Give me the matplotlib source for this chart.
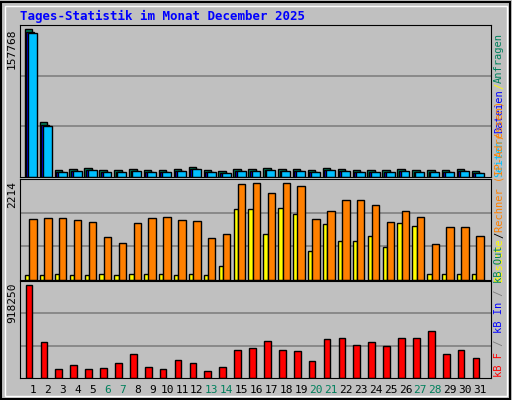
import matplotlib
matplotlib.use('Agg')
import matplotlib.pyplot as plt
import numpy as np

days = np.arange(1, 32)
weekend = [6, 7, 13, 14, 20, 21, 27, 28]

# values
hits_px = [442, 408, 20, 23, 26, 20, 20, 23, 20, 20, 23, 29, 20, 17, 23, 23, 26, 23, 23, 20, 26, 23, 20, 20, 20, 23, 20, 20, 20, 23, 17]
hits = [157768, 58600] + [round(h / 442 * 157768) for h in hits_px[2:]]
files = [155000, 55500] + [round((h - 4) / 442 * 157768) for h in hits_px[2:]]
pages = [154000, 55000] + [round((h - 6) / 442 * 157768) for h in hits_px[2:]]

sites_top = [130, 127, 127, 133, 139, 181, 199, 142, 127, 124, 133, 136, 184, 172, 31, 28, 58, 28, 37, 130, 109, 76, 76, 91, 139, 109, 124, 202, 154, 154, 178]
visits_top = [289, 289, 286, 289, 289, 286, 289, 286, 286, 286, 289, 286, 289, 262, 103, 103, 172, 100, 115, 220, 145, 193, 193, 178, 211, 142, 151, 286, 286, 286, 286]
sites = [round((303 - t) / 275 * 2214) for t in sites_top]
visits = [round((303 - t) / 275 * 2214) for t in visits_top]

kb_top = [328, 496, 577, 565, 577, 574, 559, 532, 571, 577, 550, 559, 580, 571, 520, 514, 493, 520, 523, 553, 487, 484, 505, 496, 508, 484, 484, 463, 532, 520, 544]
kbytes = [round((602 - t) / 274 * 918250) for t in kb_top]

W, H = 512, 400
fig = plt.figure(figsize=(W / 100, H / 100), dpi=100)
fig.patch.set_facecolor('#C0C0C0')
mono = 'DejaVu Sans Mono'

def px_axes(x0, y0, x1, y1):
    return fig.add_axes([x0 / W, 1 - y1 / H, (x1 - x0) / W, (y1 - y0) / H])

def style(ax, ymax, label):
    ax.set_facecolor('#C0C0C0')
    ax.set_xlim(0.13, 31.74)
    ax.set_ylim(0, ymax)
    ax.set_xticks([])
    ax.set_yticks([])
    for g in (ymax / 3, 2 * ymax / 3):
        ax.axhline(g, color='#808080', lw=1.2, zorder=0)
    for s in ax.spines.values():
        s.set_color('black')
    ax.text(-0.017, 0.98, label, transform=ax.transAxes, rotation=90,
            ha='center', va='top', fontsize=8, family=mono)

ek = dict(edgecolor='black', linewidth=1)

ax1 = px_axes(20, 25, 491, 177)
style(ax1, 157768 * 1.03, '157768')
ax1.bar(days - 0.55, hits, 0.5, align='edge', color='#00805C', **ek)
ax1.bar(days - 0.45, files, 0.5, align='edge', color='#0000FF', **ek)
ax1.bar(days - 0.33, pages, 0.6, align='edge', color='#00C0FF', **ek)

ax2 = px_axes(20, 179, 491, 280)
style(ax2, 2214 * 1.04, '2214')
ax2.bar(days - 0.54, visits, 0.3, align='edge', color='#FFFF00', **ek)
ax2.bar(days - 0.25, sites, 0.5, align='edge', color='#FF8000', **ek)

ax3 = px_axes(20, 281, 491, 378)
style(ax3, 918250 * 1.04, '918250')
ax3.bar(days - 0.49, kbytes, 0.45, align='edge', color='#FF0000', **ek)

for d in days:
    x = ax3.transData.transform((d, 0))[0] / W
    ax3.text(x, 1 - 390 / H, str(d), transform=fig.transFigure, ha='center', va='center',
             fontsize=8, family=mono, color='#00805C' if d in weekend else 'black')

fig.text(20 / W, 1 - 16 / H, 'Tages-Statistik im Monat December 2025', color='#0000FF',
         fontsize=9, fontweight='bold', family=mono, va='center')

def vlabel(parts, x, ybottom, fs=7.5):
    cw = fs / 72 * 100 * 0.602
    y = ybottom
    for txt, col in parts:
        fig.text(x / W, 1 - y / H, txt, rotation=90, rotation_mode='anchor',
                 ha='left', va='center', fontsize=fs, family=mono, color=col)
        y -= cw * len(txt)

vlabel([('Seiten', '#00C0FF'), ('/', '#FF8000'), ('Dateien', '#0000FF'), ('/', '#FFFF00'), ('Anfragen', '#00805C')], 499, 177)
vlabel([('Besuche', '#FFFF00'), ('/', 'black'), ('Rechner (IP-Adressen)', '#FF8000')], 499, 282)
vlabel([('kB F', '#FF0000'), (' / ', '#808080'), ('kB In', '#0000FF'), (' / ', '#808080'), ('kB Out', '#00805C')], 499, 377)

# outer frame
fig.add_artist(plt.Rectangle((1 / W, 1 / H), (W - 3) / W, (H - 3) / H, transform=fig.transFigure,
                             fill=False, edgecolor='black', lw=1.5))
fig.add_artist(plt.Rectangle((5 / W, 4 / H), (W - 10) / W, (H - 10) / H, transform=fig.transFigure,
                             fill=False, edgecolor='white', lw=1))

fig.savefig('out.png', dpi=100, facecolor=fig.get_facecolor())
